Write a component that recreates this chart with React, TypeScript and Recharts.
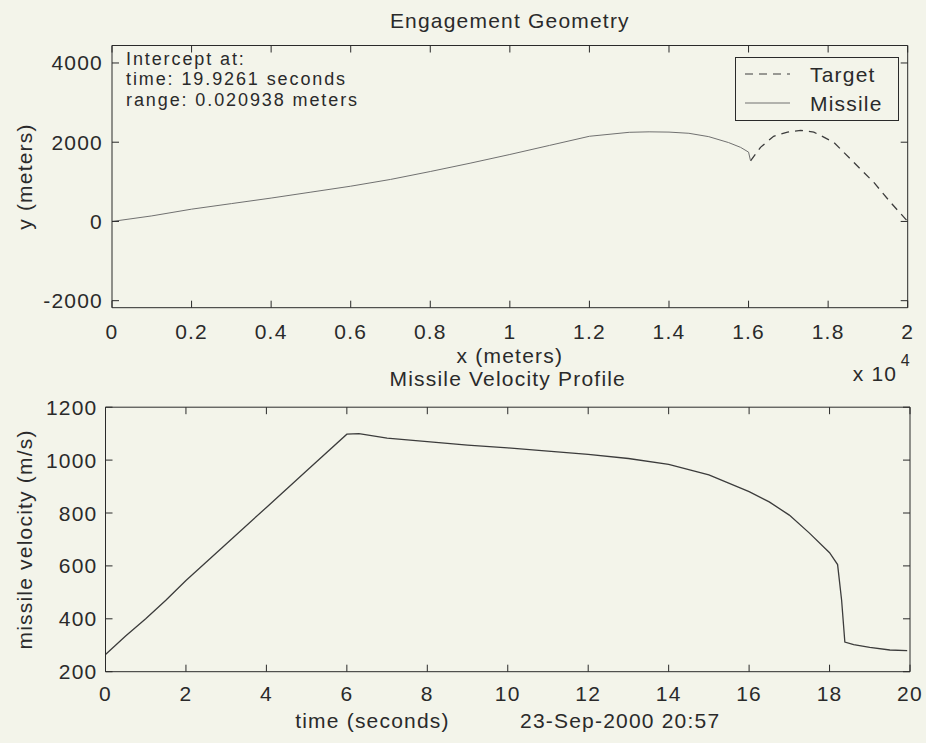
import React from "react"
import { LineChart, Line, XAxis, YAxis, Legend } from "recharts"

// engagement geometry (meters)
const missileX = [0, 1000, 2000, 3000, 4000, 5000, 6000, 7000, 8000, 9000, 10000, 11000, 12000, 13000, 13500, 14000, 14500, 15000, 15500, 15800, 16000, 16050]
const missileY = [0, 140, 310, 450, 590, 740, 890, 1060, 1260, 1470, 1690, 1920, 2150, 2250, 2262, 2255, 2225, 2140, 1990, 1870, 1750, 1530]
const targetX = [16050, 16300, 16630, 16980, 17310, 17640, 18140, 18640, 19150, 19570, 20000]
const targetY = [1530, 1870, 2150, 2255, 2300, 2255, 2000, 1495, 985, 480, 0]
const geoXTicks = [0, 2000, 4000, 6000, 8000, 10000, 12000, 14000, 16000, 18000, 20000]
const geoYTicks = [-2000, 0, 2000, 4000]
const legendOrder = ["Target", "Missile"]

// missile velocity profile
const velTime = [0, 0.25, 0.5, 1, 1.5, 2, 3, 4, 5, 6, 6.3, 7, 8, 9, 10, 11, 12, 13, 14, 15, 16, 16.5, 17, 17.5, 18, 18.2, 18.3, 18.38, 18.6, 19, 19.5, 19.93]
const velValue = [265, 300, 335, 400, 470, 545, 683, 821, 960, 1098, 1100, 1083, 1070, 1057, 1046, 1034, 1022, 1006, 984, 944, 881, 842, 792, 724, 650, 605, 470, 312, 302, 292, 282, 280]
const velXTicks = [0, 2, 4, 6, 8, 10, 12, 14, 16, 18, 20]
const velYTicks = [200, 400, 600, 800, 1000, 1200]

const interceptLines = ["Intercept at:", "time: 19.9261 seconds", "range: 0.020938 meters"]

const missileData = missileX.map((x, i) => ({ x, y: missileY[i] }))
const targetData = targetX.map((x, i) => ({ x, y: targetY[i] }))
const velData = velTime.map((t, i) => ({ t, v: velValue[i] }))

const FONT = "'Liberation Sans', Arial, Helvetica, sans-serif"
const INK = "#2a2a2a"
const LINE = "#3c3c3c"
const FAINT = "#707070"
const PAPER = "#f3f4ea"
const TICK = 7

const txt = { fontFamily: FONT, fontSize: 21, letterSpacing: 1.2, fill: INK }
const noteTxt = { ...txt, fontSize: 18, letterSpacing: 1.9 }

const fmtGeoX = (v: number) => String(+(v / 10000).toFixed(1))

function bottomTick(offset: number, fmt: (v: number) => string) {
  return (props: any) => {
    const { x, y, payload } = props
    return (
      <g>
        <line x1={x} y1={y} x2={x} y2={y - TICK} stroke={INK} />
        <text x={x} y={y + offset} textAnchor="middle" style={txt}>
          {fmt(payload.value)}
        </text>
      </g>
    )
  }
}

function topTick(props: any) {
  const { x, y } = props
  return <line x1={x} y1={y} x2={x} y2={y + TICK} stroke={INK} />
}

function leftTick(gap: number) {
  return (props: any) => {
    const { x, y, payload } = props
    return (
      <g>
        <line x1={x} y1={y} x2={x + TICK} y2={y} stroke={INK} />
        <text x={x - gap} y={y + 7.5} textAnchor="end" style={txt}>
          {payload.value}
        </text>
      </g>
    )
  }
}

function rightTick(props: any) {
  const { x, y } = props
  return <line x1={x} y1={y} x2={x - TICK} y2={y} stroke={INK} />
}

function GeoLegend(props: any) {
  const items = [...(props.payload ?? [])].sort(
    (a: any, b: any) => legendOrder.indexOf(a.value) - legendOrder.indexOf(b.value)
  )
  return (
    <svg width={164} height={64} style={{ display: "block" }}>
      <rect x={0.5} y={0.5} width={163} height={63} fill={PAPER} stroke={INK} />
      {items.map((e: any, i: number) => {
        const cy = 17 + i * 29
        const isTarget = e.value === "Target"
        return (
          <g key={e.value}>
            <line
              x1={10}
              x2={55}
              y1={cy}
              y2={cy}
              stroke={isTarget ? LINE : FAINT}
              strokeDasharray={isTarget ? "8 6" : undefined}
            />
            <text x={75} y={cy + 7.5} style={txt}>
              {e.value}
            </text>
          </g>
        )
      })}
    </svg>
  )
}

function EngagementChart() {
  return (
    <div style={{ position: "absolute", left: 0, top: 0 }}>
      <LineChart width={926} height={400} margin={{ top: 44.5, right: 17.3, bottom: 91.3, left: 111 }}>
        <XAxis
          xAxisId="b"
          dataKey="x"
          type="number"
          domain={[0, 20000]}
          allowDataOverflow
          ticks={geoXTicks}
          interval={0}
          height={1}
          tickSize={0}
          tickMargin={0}
          tickLine={false}
          axisLine={{ stroke: INK }}
          tick={bottomTick(31, fmtGeoX)}
          label={(p: any) => {
            const vb = p.viewBox
            return (
              <g>
                <text x={vb.x + vb.width / 2} y={vb.y + 55} textAnchor="middle" style={txt}>
                  x (meters)
                </text>
                <text x={vb.x + vb.width - 55} y={vb.y + 73} style={txt}>
                  x 10
                </text>
                <text x={vb.x + vb.width - 7} y={vb.y + 58} style={{ ...txt, fontSize: 16 }}>
                  4
                </text>
              </g>
            )
          }}
        />
        <XAxis
          xAxisId="t"
          orientation="top"
          dataKey="x"
          type="number"
          domain={[0, 20000]}
          allowDataOverflow
          ticks={geoXTicks}
          interval={0}
          height={1}
          tickSize={0}
          tickMargin={0}
          tickLine={false}
          axisLine={{ stroke: INK }}
          tick={topTick}
          label={(p: any) => {
            const vb = p.viewBox
            return (
              <text x={vb.x + vb.width / 2} y={vb.y - 17} textAnchor="middle" style={txt}>
                Engagement Geometry
              </text>
            )
          }}
        />
        <YAxis
          yAxisId="l"
          type="number"
          domain={[-2177, 4441]}
          allowDataOverflow
          ticks={geoYTicks}
          interval={0}
          width={1}
          tickSize={0}
          tickMargin={0}
          tickLine={false}
          axisLine={{ stroke: INK }}
          tick={leftTick(9)}
          label={(p: any) => {
            const vb = p.viewBox
            const cx = 25
            const cy = vb.y + vb.height / 2
            return (
              <g>
                <text x={cx} y={cy + 7} transform={`rotate(-90 ${cx} ${cy})`} textAnchor="middle" style={txt}>
                  y (meters)
                </text>
                {interceptLines.map((s, i) => (
                  <text key={s} x={vb.x + 15} y={vb.y + 19 + i * 20.5} style={noteTxt}>
                    {s}
                  </text>
                ))}
              </g>
            )
          }}
        />
        <YAxis
          yAxisId="r"
          orientation="right"
          type="number"
          domain={[-2177, 4441]}
          allowDataOverflow
          ticks={geoYTicks}
          interval={0}
          width={1}
          tickSize={0}
          tickMargin={0}
          tickLine={false}
          axisLine={{ stroke: INK }}
          tick={rightTick}
        />
        <Legend
          layout="horizontal"
          verticalAlign="middle"
          align="center"
          content={GeoLegend}
          wrapperStyle={{ left: 735, top: 57, width: 164, height: 64 }}
        />
        <Line
          xAxisId="t"
          yAxisId="r"
          data={targetData}
          dataKey="y"
          name="Target"
          type="linear"
          stroke={LINE}
          strokeWidth={1.3}
          strokeDasharray="8 6"
          dot={false}
          isAnimationActive={false}
        />
        <Line
          xAxisId="b"
          yAxisId="l"
          data={missileData}
          dataKey="y"
          name="Missile"
          type="linear"
          stroke={FAINT}
          strokeWidth={1}
          dot={false}
          isAnimationActive={false}
        />
      </LineChart>
    </div>
  )
}

function VelocityChart() {
  return (
    <div style={{ position: "absolute", left: 0, top: 340 }}>
      <LineChart width={926} height={403} data={velData} margin={{ top: 66.2, right: 15, bottom: 70.3, left: 104.5 }}>
        <XAxis
          xAxisId="b"
          dataKey="t"
          type="number"
          domain={[0, 20]}
          allowDataOverflow
          ticks={velXTicks}
          interval={0}
          height={1}
          tickSize={0}
          tickMargin={0}
          tickLine={false}
          axisLine={{ stroke: INK }}
          tick={bottomTick(29, (v) => String(v))}
          label={(p: any) => {
            const vb = p.viewBox
            return (
              <text x={vb.x + vb.width / 2} y={vb.y + 56} textAnchor="middle" style={{ ...txt, whiteSpace: "pre" }}>
                {"time (seconds)          23-Sep-2000 20:57"}
              </text>
            )
          }}
        />
        <XAxis
          xAxisId="t"
          orientation="top"
          dataKey="t"
          type="number"
          domain={[0, 20]}
          allowDataOverflow
          ticks={velXTicks}
          interval={0}
          height={1}
          tickSize={0}
          tickMargin={0}
          tickLine={false}
          axisLine={{ stroke: INK }}
          tick={topTick}
          label={(p: any) => {
            const vb = p.viewBox
            return (
              <text x={vb.x + vb.width / 2} y={vb.y - 20} textAnchor="middle" style={txt}>
                Missile Velocity Profile
              </text>
            )
          }}
        />
        <YAxis
          yAxisId="l"
          type="number"
          domain={[200, 1200]}
          allowDataOverflow
          ticks={velYTicks}
          interval={0}
          width={1}
          tickSize={0}
          tickMargin={0}
          tickLine={false}
          axisLine={{ stroke: INK }}
          tick={leftTick(8)}
          label={(p: any) => {
            const vb = p.viewBox
            const cx = 25
            const cy = vb.y + vb.height / 2
            return (
              <text x={cx} y={cy + 7} transform={`rotate(-90 ${cx} ${cy})`} textAnchor="middle" style={txt}>
                missile velocity (m/s)
              </text>
            )
          }}
        />
        <YAxis
          yAxisId="r"
          orientation="right"
          type="number"
          domain={[200, 1200]}
          allowDataOverflow
          ticks={velYTicks}
          interval={0}
          width={1}
          tickSize={0}
          tickMargin={0}
          tickLine={false}
          axisLine={{ stroke: INK }}
          tick={rightTick}
        />
        <Line
          xAxisId="b"
          yAxisId="l"
          dataKey="v"
          type="linear"
          stroke={LINE}
          strokeWidth={1.3}
          dot={false}
          isAnimationActive={false}
        />
      </LineChart>
    </div>
  )
}

export default function App() {
  return (
    <div style={{ position: "absolute", left: 0, top: 0, width: 926, height: 743, background: PAPER, overflow: "hidden" }}>
      <VelocityChart />
      <EngagementChart />
    </div>
  )
}
